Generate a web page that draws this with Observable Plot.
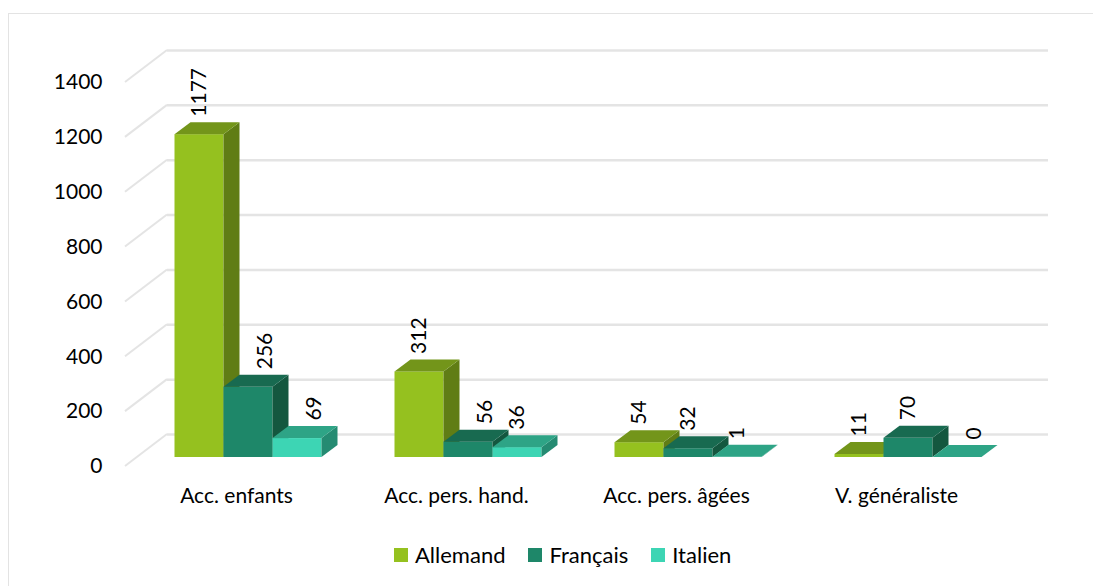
<!DOCTYPE html>
<html>
<head>
<meta charset="utf-8">
<script src="https://cdn.jsdelivr.net/npm/d3@7"></script>
<script src="https://cdn.jsdelivr.net/npm/@observablehq/plot@0.6"></script>
<style>
  html, body { margin: 0; padding: 0; background: #fff; }
  body { width: 1093px; height: 586px; overflow: hidden; position: relative; font-family: Lato, "Noto Sans", sans-serif; }
  #border { position: absolute; left: 8px; top: 13px; width: 1100px; height: 600px; border: 1.5px solid #e3e3e3; box-sizing: border-box; }
  #chart { position: absolute; left: 0; top: 0; }
  #legend { position: absolute; left: 394px; top: 541px; display: flex; align-items: center; font-size: 22px; color: #000; }
  .item { display: flex; align-items: center; margin-right: 23px; }
  .sw { width: 14px; height: 14px; margin-right: 7px; }
</style>
</head>
<body>
<div id="border"></div>
<div id="chart"></div>
<div id="legend"></div>
<script>
const categories = ["Acc. enfants", "Acc. pers. hand.", "Acc. pers. âgées", "V. généraliste"];
const languages = ["Allemand", "Français", "Italien"];
const allemand = [1177, 312, 54, 11];
const francais = [256, 56, 32, 70];
const italien = [69, 36, 1, 0];
const yTicks = [0, 200, 400, 600, 800, 1000, 1200, 1400];

const frontColors = ["#95C11F", "#1E8769", "#3DD5B4"];
const sideColors = ["#607D15", "#14573F", "#258B72"];
const topColors = ["#73951A", "#186A50", "#2EA486"];

const series = [allemand, francais, italien];
const rows = [];
languages.forEach((lang, li) => {
  categories.forEach((cat, ci) => {
    const prev = li > 0 ? series[li - 1][ci] : null;
    rows.push({category: cat, language: lang, li, value: series[li][ci],
      shifted: prev != null && prev - series[li][ci] > 40});
  });
});

const BAR = 49, LEFT = 36.5, DEPTH_X = 16, DEPTH_Y = 12, FRONT_DY = -9;
const WALL_DX = 42, WALL_DY = -32;

function facesMark(li) {
  return (index, scales) => {
    const g = d3.create("svg:g");
    const x = scales.x, y = scales.y;
    rows.filter(r => r.li === li).forEach(r => {
      const x0 = x(r.category) + LEFT + li * BAR, x1 = x0 + BAR;
      const yt = y(r.value) + FRONT_DY, yb = y(0) + FRONT_DY;
      g.append("polygon")
        .attr("points", [[x1, yb], [x1, yt], [x1 + DEPTH_X, yt - DEPTH_Y], [x1 + DEPTH_X, yb - DEPTH_Y]].join(" "))
        .attr("fill", sideColors[li]);
      g.append("polygon")
        .attr("points", [[x0, yt], [x1, yt], [x1 + DEPTH_X, yt - DEPTH_Y], [x0 + DEPTH_X, yt - DEPTH_Y]].join(" "))
        .attr("fill", topColors[li]);
    });
    return g.node();
  };
}

const diagonals = (index, scales, values, dimensions) => {
  const g = d3.create("svg:g").attr("stroke", "#e4e4e4").attr("stroke-width", 2);
  const x0 = dimensions.marginLeft;
  yTicks.forEach(t => {
    const yy = scales.y(t);
    g.append("line").attr("x1", x0).attr("y1", yy).attr("x2", x0 + WALL_DX).attr("y2", yy + WALL_DY);
  });
  return g.node();
};

const marks = [
  Plot.ruleY(yTicks, {stroke: "#e4e4e4", strokeWidth: 2.5, dx: WALL_DX, dy: WALL_DY}),
  diagonals,
];
languages.forEach((lang, li) => {
  const data = rows.filter(r => r.li === li);
  marks.push(Plot.barY(data, {
    x: "category", y: "value", fill: frontColors[li], dy: FRONT_DY,
    insetLeft: LEFT + li * BAR, insetRight: 220 - LEFT - (li + 1) * BAR
  }));
  marks.push(facesMark(li));
});
languages.forEach((lang, li) => {
  [false, true].forEach(sh => {
    marks.push(Plot.text(rows.filter(r => r.li === li && r.shifted === sh), {
      x: "category", y: "value", text: d => String(d.value), rotate: -90,
      textAnchor: "start", fill: "#000", fontSize: 21,
      dx: (li - 1) * BAR + (sh ? 17 : 0), dy: -27
    }));
  });
});

const chart = Plot.plot({
  width: 1093,
  height: 530,
  marginLeft: 125,
  marginRight: 87,
  marginTop: 20,
  marginBottom: 60,
  style: {fontFamily: "Lato, 'Noto Sans', sans-serif", fontSize: "21px", color: "#000", background: "transparent"},
  x: {domain: categories, range: [137.5, 1017.5], padding: 0, label: null, tickSize: 0, tickPadding: 18},
  y: {domain: [0, 1400], range: [466, 82], ticks: yTicks, label: null, tickSize: 0, tickPadding: 23, tickFormat: d => String(d)},
  marks
});
document.getElementById("chart").appendChild(chart);

// shift category labels to the left like the reference
d3.select(chart).selectAll('[aria-label="x-axis tick label"] text, [aria-label="x-axis"] text').attr("dx", -12);

const legend = document.getElementById("legend");
languages.forEach((lang, li) => {
  const item = document.createElement("div");
  item.className = "item";
  const sw = document.createElement("div");
  sw.className = "sw";
  sw.style.background = frontColors[li];
  const tx = document.createElement("span");
  tx.textContent = lang;
  item.appendChild(sw); item.appendChild(tx);
  legend.appendChild(item);
});
</script>
</body>
</html>
